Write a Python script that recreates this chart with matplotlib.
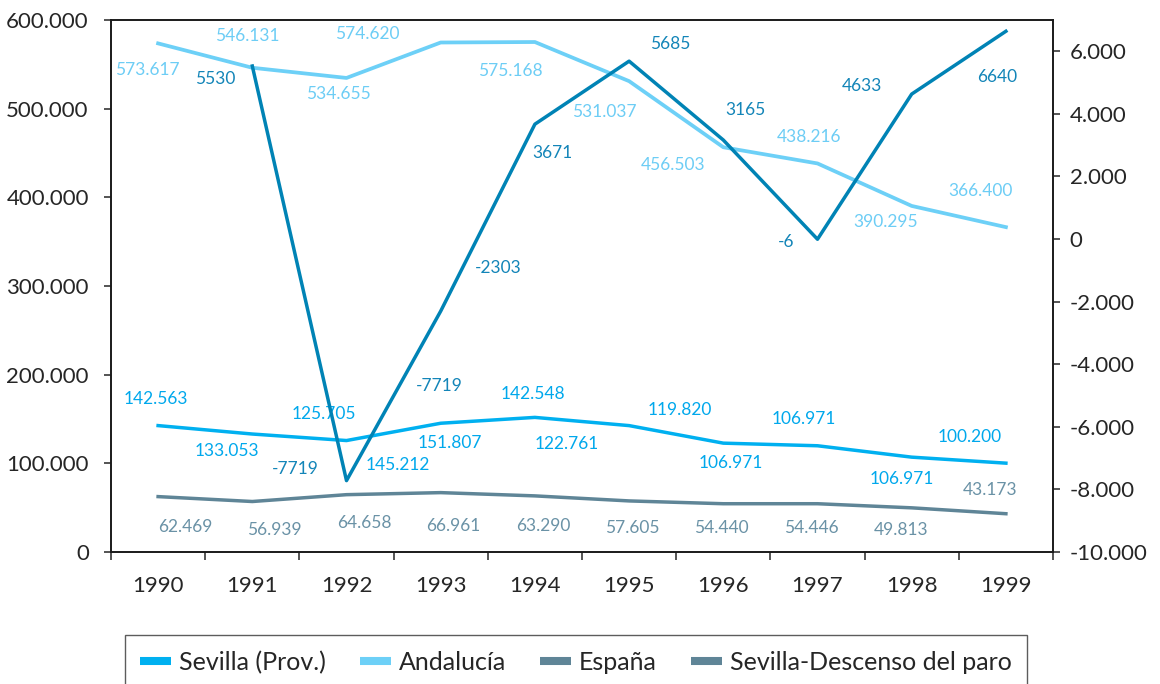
import matplotlib
matplotlib.use("Agg")
import matplotlib.pyplot as plt
from matplotlib.lines import Line2D
from matplotlib.ticker import FuncFormatter, FixedLocator

plt.rcParams['font.family'] = ['Lato', 'DejaVu Sans']

years = ['1990', '1991', '1992', '1993', '1994', '1995', '1996', '1997', '1998', '1999']
sevilla = [142563, 133053, 125705, 145212, 151807, 142548, 122761, 119820, 106971, 100200]
andalucia = [573617, 546131, 534655, 574620, 575168, 531037, 456503, 438216, 390295, 366400]
espana = [62469, 56939, 64658, 66961, 63290, 57605, 54440, 54446, 49813, 43173]
descenso = [None, 5530, -7719, -2303, 3671, 5685, 3165, -6, 4633, 6640]

# data labels: (category index, text, dx px, dy px) ; dy positive = downward
sevilla_labels = [(0, '142.563', -2, -27), (1, '133.053', -25, 17), (2, '125.705', -23, -27),
                  (2, '145.212', 51, 24), (3, '151.807', 9, 20), (4, '142.548', -2, -23),
                  (4, '122.761', 32, 27), (6, '119.820', -43, -33), (6, '106.971', 8, 20),
                  (7, '106.971', -14, -27), (8, '106.971', -10, 22), (9, '100.200', -36, -26)]
andalucia_labels = [(0, '573.617', -11, 27), (1, '546.131', -5, -32), (2, '534.655', -8, 16),
                    (3, '574.620', -73, -9), (4, '575.168', -25, 29), (5, '531.037', -25, 31),
                    (6, '456.503', -50, 18), (7, '438.216', -8, -26), (8, '390.295', -26, 16),
                    (9, '366.400', -25, -36)]
espana_labels = [(0, '62.469', 27, 30), (1, '56.939', 22, 28), (2, '64.658', 18, 28),
                 (3, '66.961', 13, 33), (4, '63.290', 8, 30), (5, '57.605', 3, 27),
                 (6, '54.440', -2, 24), (7, '54.446', -6, 24), (8, '49.813', -11, 22),
                 (9, '43.173', -16, -24)]
descenso_labels = [(1, '5530', -37, 13), (2, '-7719', -51, -12), (3, '-7719', -1, 75),
                   (3, '-2303', 58, -43), (4, '3671', 18, 29), (5, '5685', 41, -17),
                   (6, '3165', 22, -30), (7, '-6', -31, 3), (8, '4633', -50, -8),
                   (9, '6640', -9, 46)]

legend_names = ['Sevilla (Prov.)', 'Andalucía', 'España', 'Sevilla-Descenso del paro']

c_sev = '#00B0F0'
c_and = '#6DD0F7'
c_esp = '#5F8597'
c_des = '#0083B5'
c_sev_t = '#00A8EC'
c_and_t = '#6DCDF5'
c_esp_t = '#6A92A6'
c_des_t = '#1385B8'
c_legend = [c_sev, c_and, c_esp, c_esp]

fig = plt.figure(figsize=(11.6, 6.84), dpi=100)
ax = fig.add_axes([111/1160, 1 - 552/684, (1053-111)/1160, 532/684])
ax2 = ax.twinx()

x = list(range(len(years)))
ax.plot(x, sevilla, color=c_sev, lw=2.5, solid_joinstyle='round', zorder=3)
ax.plot(x, andalucia, color=c_and, lw=2.7, solid_joinstyle='round', zorder=3)
ax.plot(x, espana, color=c_esp, lw=2.5, solid_joinstyle='round', zorder=3)
xd = [i for i, v in zip(x, descenso) if v is not None]
yd = [v for v in descenso if v is not None]
ax2.plot(xd, yd, color=c_des, lw=2.5, solid_joinstyle='round', zorder=3)

lab_fs = 12.5
def put(axis, series, labels, color):
    for i, t, dx, dy in labels:
        axis.annotate(t, xy=(i, series[i]), xytext=(dx, -dy), textcoords='offset pixels',
                      ha='center', va='center', fontsize=lab_fs, color=color, zorder=5)

put(ax, sevilla, sevilla_labels, c_sev_t)
put(ax, andalucia, andalucia_labels, c_and_t)
put(ax, espana, espana_labels, c_esp_t)
put(ax2, descenso, descenso_labels, c_des_t)

ax.set_xlim(-0.5, len(years) - 0.5)
ax.set_ylim(0, 600000)
ax2.set_ylim(-10000, 7000)

ax.set_yticks(range(0, 600001, 100000))
ax2.set_yticks(range(-10000, 6001, 2000))
fmt = FuncFormatter(lambda v, p: f"{int(v):,}".replace(',', '.'))
ax.yaxis.set_major_formatter(fmt)
ax2.yaxis.set_major_formatter(fmt)

ax.xaxis.set_major_locator(FixedLocator([i - 0.5 for i in range(len(years) + 1)]))
ax.xaxis.set_major_formatter(FuncFormatter(lambda v, p: ''))
ax.set_xticks(x, minor=True)
ax.set_xticklabels(years, minor=True)

tc = '#262626'
ax.tick_params(axis='x', which='major', length=6, width=1.1, color=tc, direction='out')
ax.tick_params(axis='x', which='minor', length=0, pad=17, labelsize=16, labelcolor=tc)
ax.tick_params(axis='y', length=5, width=1.1, color=tc, pad=11, labelsize=16, labelcolor=tc)
ax2.tick_params(axis='y', length=5, width=1.1, color=tc, pad=7, labelsize=16, labelcolor=tc)

for a in (ax, ax2):
    for s in a.spines.values():
        s.set_color('#1a1a1a')
        s.set_linewidth(1.2)

handles = [Line2D([0], [0], color=c, lw=5.8, solid_capstyle='butt') for c in c_legend]
leg = fig.legend(handles, legend_names, loc='upper center',
                 bbox_to_anchor=(576/1160, 1 - 635/684), ncol=4, frameon=True,
                 fancybox=False, fontsize=18, handlelength=1.24, handletextpad=0.32,
                 columnspacing=1.35, borderpad=0.62, borderaxespad=0, labelcolor=tc)
leg.get_frame().set_edgecolor('#333333')
leg.get_frame().set_linewidth(1.0)

fig.savefig('out.png', dpi=100)
